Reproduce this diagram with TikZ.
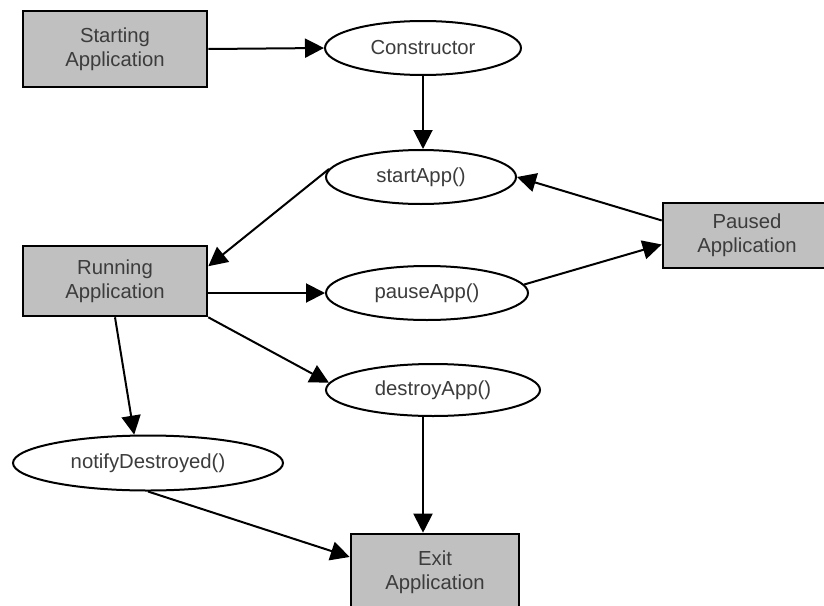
\documentclass[tikz,border=0pt]{standalone}
\usepackage{fontspec}
\setmainfont{Liberation Sans}
\usetikzlibrary{shapes.geometric,arrows.meta}

\definecolor{boxgray}{HTML}{C0C0C0}
\definecolor{labelgray}{HTML}{3C3C3C}

\tikzset{
  state/.style={draw=black, line width=2.6pt, fill=boxgray, rectangle,
    minimum width=184pt, minimum height=70pt, inner sep=0pt,
    align=center, text=labelgray, font=\fontsize{20.3}{24}\selectfont},
  call/.style={draw=black, line width=2pt, fill=white, ellipse,
    inner sep=0pt, text=labelgray, font=\fontsize{20.3}{24}\selectfont},
  flow/.style={draw=black, line width=2pt,
    -{Triangle[length=19pt,width=19pt]}}
}

\begin{document}
\begin{tikzpicture}[x=1pt,y=-1pt]
  \useasboundingbox (0,0) rectangle (824,605);
  \clip (0,0) rectangle (824,605);
  \fill[white] (0,0) rectangle (824,605);

  % lifecycle states
  \node[state, minimum height=76pt] (start) at (115,49) {Starting\\Application};
  \node[state] (running) at (115,281) {Running\\Application};
  \node[state, minimum width=168pt, minimum height=65pt] (paused) at (747,235.5) {Paused\\Application};
  \node[state, minimum width=168pt, minimum height=76pt] (exit) at (435,572) {Exit\\Application};

  % method calls
  \node[call, minimum width=196pt, minimum height=54pt] (ctor) at (423,48) {Constructor};
  \node[call, minimum width=190pt, minimum height=54pt] (startapp) at (421,177) {startApp()};
  \node[call, minimum width=202pt, minimum height=54pt] (pauseapp) at (427,293) {pauseApp()};
  \node[call, minimum width=214pt, minimum height=52pt] (destroyapp) at (433,390) {destroyApp()};
  \node[call, minimum width=270pt, minimum height=55pt] (notify) at (148,463) {notifyDestroyed()};

  \coordinate (dropx) at (423,0);

  % transitions
  \draw[flow] (start.east) -- (ctor.west);
  \draw[flow] (ctor.south) -- (ctor.south |- startapp.north);
  \draw[flow] (startapp.175) -- (running.9);
  \draw[flow] (paused.170) -- (startapp.east);
  \draw[flow] (pauseapp.5) -- (paused.186);
  \draw[flow] (running.east |- pauseapp.west) -- (pauseapp.west);
  \draw[flow] (running.south east) -- (destroyapp.176);
  \draw[flow] (running.south) -- (notify.116);
  \draw[flow] (notify.south) -- (exit.170);
  \draw[flow] (destroyapp.south -| dropx) -- (exit.north -| dropx);
\end{tikzpicture}
\end{document}
